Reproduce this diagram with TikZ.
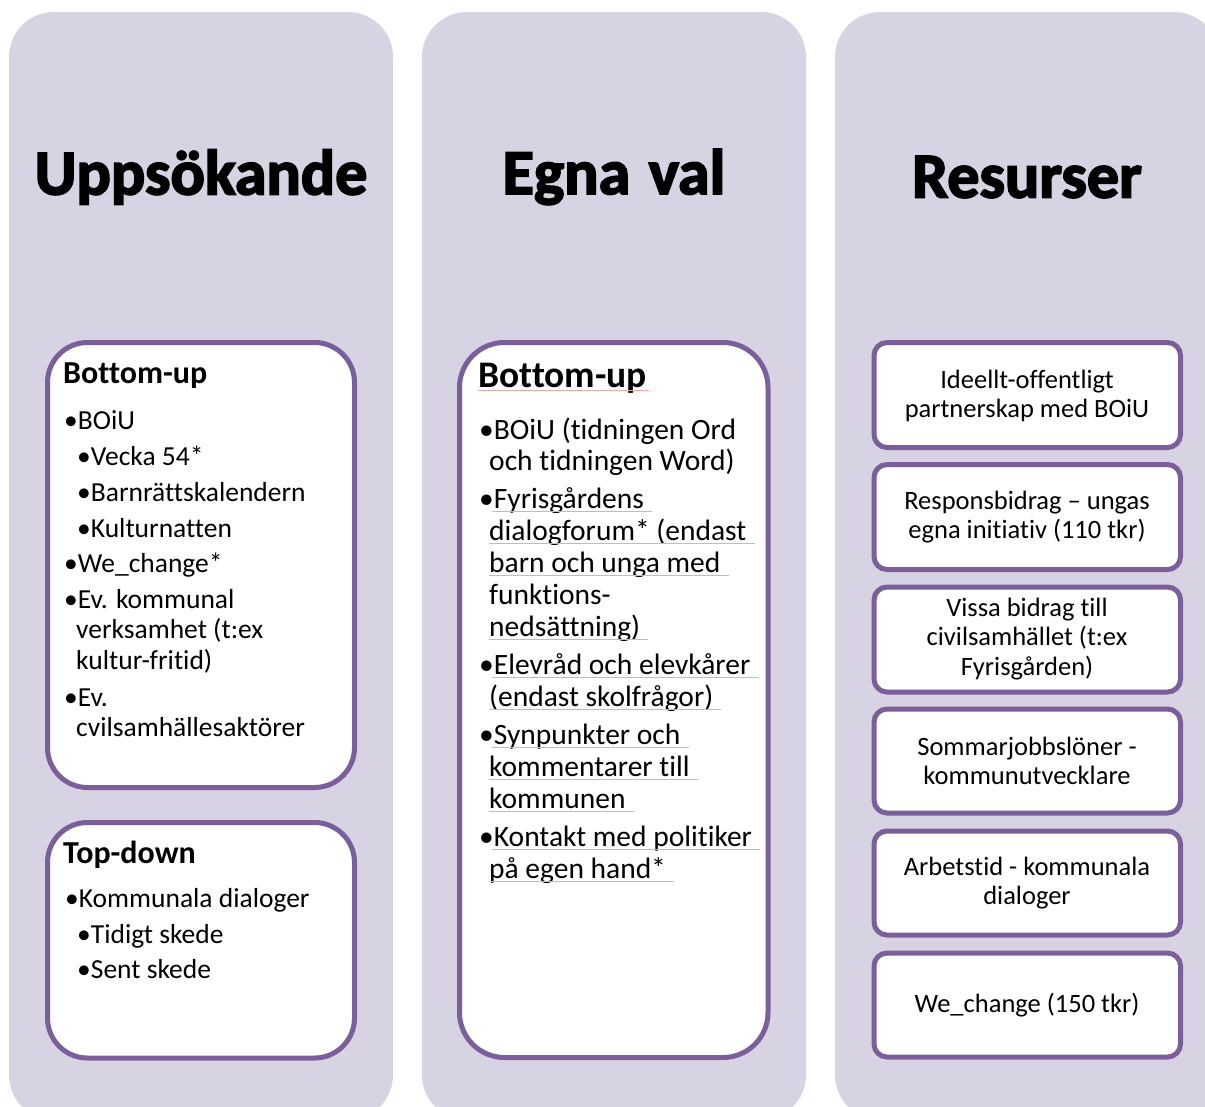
\documentclass[tikz,border=0pt]{standalone}
\usepackage{fontspec}
\setmainfont{Carlito}[Ligatures=NoCommon, Contextuals=NoAlternate]
\newfontfamily\headfont{Carlito}[FakeBold=2.8, Ligatures=NoCommon]
\definecolor{lavender}{HTML}{D7D3E3}
\definecolor{boxpurple}{HTML}{7A5F9B}
\definecolor{spellred}{HTML}{F2A7A7}
\tikzset{
    colbg/.style={fill=lavender, rounded corners=45pt},
    bigbox/.style={draw=boxpurple, line width=5pt, fill=white, rounded corners=40pt},
    resbox/.style={draw=boxpurple, line width=5pt, fill=white, rounded corners=13pt},
    colhead/.style={inner sep=0pt, font=\headfont\bfseries\fontsize{64}{70}\selectfont},
    lefthead/.style={anchor=base west, inner sep=0pt, font=\bfseries\fontsize{32}{36}\selectfont},
    midhead/.style={anchor=base west, inner sep=0pt, font=\bfseries\fontsize{37.5}{40}\selectfont},
    lefttxt/.style={anchor=base west, inner sep=0pt, font=\fontsize{27.5}{31}\selectfont},
    midtxt/.style={anchor=base west, inner sep=0pt, font=\fontsize{29.5}{33}\selectfont},
    restxt/.style={align=center, inner sep=0pt, font=\fontsize{26.5}{29.5}\selectfont},
    spell/.style={spellred, line width=0.8pt}
}
\begin{document}
\begin{tikzpicture}[x=1pt, y=-1pt]
    \useasboundingbox (0,0) rectangle (1205,1106);
    \clip (0,0) rectangle (1205,1106);
    %% Columns
    \fill[colbg] (9,12) rectangle (393,1120);
    \fill[colbg] (422,12) rectangle (806,1120);
    \fill[colbg] (835,12) rectangle (1219,1120);
    \node[colhead] (uppsok) at (201,177) {Uppsökande};
    \node[colhead] (egnaval) at (614,177) {Egna\hspace{4pt} val};
    \node[colhead] (resurser) at (1027,177) {Resurser};

    %% Uppsökande
    \draw[bigbox] (47.5,342.5) rectangle (354.5,787.5);
    \node[lefthead] (bu1) at (63,383) {Bottom-up};
    \node[lefttxt] (boiu1) at (64,429) {•BOiU};
    \node[lefttxt] (vecka) at (77,465) {•Vecka 54*};
    \node[lefttxt] (barnr) at (77,501) {•Barnrättskalendern};
    \node[lefttxt] (kultur) at (77,537) {•Kulturnatten};
    \node[lefttxt] (wechange1) at (64,572) {•We\_change*};
    \node[lefttxt] (kommunal) at (64,608) {•Ev. kommunal};
    \node[lefttxt] (verksamhet) at (76,638) {verksamhet (t:ex};
    \node[lefttxt] (fritid) at (76,669) {kultur-fritid)};
    \node[lefttxt] (ev) at (64,706) {•Ev.};
    \node[lefttxt] (civil) at (76,736) {cvilsamhällesaktörer};

    \draw[bigbox] (47.5,822.5) rectangle (354.5,1058);
    \node[lefthead] (td) at (63,863) {Top-down};
    \node[lefttxt] (kdial) at (65,907) {•Kommunala dialoger};
    \node[lefttxt] (tidigt) at (77,943) {•Tidigt skede};
    \node[lefttxt] (sent) at (77,978) {•Sent skede};

    %% Egna val
    \draw[bigbox, rounded corners=45pt] (459.5,342.5) rectangle (768,1057.5);
    \node[midhead] (bu2) at (478,387) {Bottom-up};
    \node[midtxt] (boiu2) at (479,439) {•BOiU (tidningen Ord};
    \node[midtxt] (word) at (489,470) {och tidningen Word)};
    \node[midtxt] (fyris) at (479,508) {•Fyrisgårdens};
    \node[midtxt] (forum) at (489,540) {dialogforum* (endast};
    \node[midtxt] (barn) at (489,572) {barn och unga med};
    \node[midtxt] (funk) at (489,604) {funktions-};
    \node[midtxt] (neds) at (489,636) {nedsättning)};
    \node[midtxt] (elev) at (479,674) {•Elevråd och elevkårer};
    \node[midtxt] (skol) at (489,706) {(endast skolfrågor)};
    \node[midtxt] (synp) at (479,744) {•Synpunkter och};
    \node[midtxt] (komm) at (489,776) {kommentarer till};
    \node[midtxt] (kommunen) at (489,808) {kommunen};
    \node[midtxt] (kontakt) at (479,846) {•Kontakt med politiker};
    \node[midtxt] (egen) at (489,878) {på egen hand*};
    %% spell check marks
    \draw[spell] ([yshift=-3pt]bu2.base west) -- ([xshift=2pt,yshift=-3pt]bu2.base east);
    \foreach \n in {fyris,elev,synp,kontakt}
        \draw[spell] ([xshift=13pt,yshift=-3pt]\n.base west) -- ([xshift=8pt,yshift=-3pt]\n.base east);
    \foreach \n in {forum,barn,neds,skol,komm,kommunen,egen}
        \draw[spell] ([yshift=-3pt]\n.base west) -- ([xshift=8pt,yshift=-3pt]\n.base east);

    %% Resurser
    \draw[resbox] (874,342.5) rectangle (1180.5,447.5);
    \draw[resbox] (874,464.5) rectangle (1180.5,569.5);
    \draw[resbox] (874,587) rectangle (1180.5,692);
    \draw[resbox] (874,709) rectangle (1180.5,813);
    \draw[resbox] (874,831) rectangle (1180.5,935);
    \draw[resbox] (874,953) rectangle (1180.5,1057);
    \node[restxt] (partner) at (1027,396) {Ideellt-offentligt\\partnerskap med BOiU};
    \node[restxt] (respons) at (1027,517) {Responsbidrag – ungas\\egna initiativ (110 tkr)};
    \node[restxt] (bidrag) at (1027,639) {Vissa bidrag till\\civilsamhället (t:ex\\Fyrisgården)};
    \node[restxt] (sommar) at (1027,761) {Sommarjobbslöner -\\kommunutvecklare};
    \node[restxt] (arbetstid) at (1027,883) {Arbetstid - kommunala\\dialoger};
    \node[restxt] (wechange2) at (1027,1005) {We\_change (150 tkr)};
\end{tikzpicture}
\end{document}
